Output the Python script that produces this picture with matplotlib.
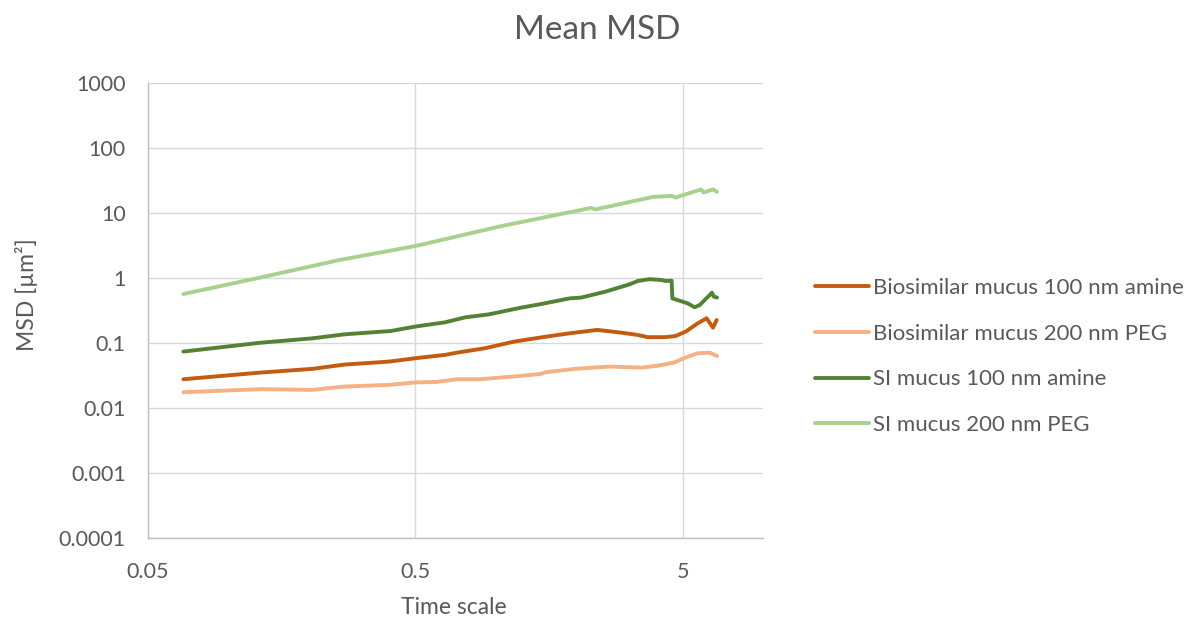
import matplotlib.pyplot as plt
from matplotlib.ticker import FixedLocator, FixedFormatter, NullLocator

plt.rcParams["font.family"] = ["Lato", "DejaVu Sans"]

# time lag (s) and mean MSD (um^2)
t_bio_amine = [0.0678, 0.132, 0.206, 0.272, 0.400, 0.50, 0.646, 0.72, 0.91, 1.17,
               1.54, 1.89, 2.40, 2.96, 3.40, 3.70, 4.32, 4.71, 5.14, 5.70,
               6.15, 6.50, 6.71]
msd_bio_amine = [0.0277, 0.0351, 0.040, 0.0466, 0.0518, 0.0583, 0.0656, 0.0713, 0.083, 0.105,
                 0.125, 0.141, 0.159, 0.144, 0.133, 0.123, 0.123, 0.128, 0.150, 0.201,
                 0.240, 0.172, 0.226]

t_bio_peg = [0.0678, 0.132, 0.206, 0.272, 0.400, 0.50, 0.60, 0.72, 0.87, 1.245,
             1.48, 1.54, 1.97, 2.66, 3.50, 4.00, 4.64, 5.14, 5.70, 6.32, 6.73]
msd_bio_peg = [0.0175, 0.0195, 0.0190, 0.0214, 0.0227, 0.0247, 0.0252, 0.0277, 0.0277, 0.0312,
               0.0335, 0.0355, 0.040, 0.0434, 0.0419, 0.0445, 0.050, 0.060, 0.0695, 0.071, 0.063]

t_si_amine = [0.0678, 0.132, 0.206, 0.272, 0.405, 0.50, 0.646, 0.768, 0.944, 1.245,
              1.48, 1.89, 2.09, 2.57, 3.17, 3.40, 3.77, 4.18, 4.32, 4.55,
              4.58, 5.23, 5.55, 5.80, 6.32, 6.44, 6.55, 6.73]
msd_si_amine = [0.0738, 0.101, 0.118, 0.136, 0.153, 0.179, 0.208, 0.248, 0.276, 0.350,
                0.398, 0.486, 0.50, 0.616, 0.80, 0.90, 0.96, 0.93, 0.90, 0.91,
                0.486, 0.407, 0.354, 0.385, 0.547, 0.594, 0.516, 0.50]

t_si_peg = [0.0678, 0.132, 0.26, 0.50, 1.05, 2.28, 2.35, 3.88, 4.56, 4.71,
            5.86, 5.99, 6.50, 6.73]
msd_si_peg = [0.567, 1.02, 1.89, 3.10, 6.29, 12.0, 11.3, 17.7, 18.3, 17.3,
              23.0, 20.7, 23.0, 21.2]

labels = ["Biosimilar mucus 100 nm amine", "Biosimilar mucus 200 nm PEG",
          "SI mucus 100 nm amine", "SI mucus 200 nm PEG"]
colors = ["#C55A11", "#F4B183", "#548235", "#A9D18E"]

x_ticks = [0.05, 0.5, 5]
x_ticklabels = ["0.05", "0.5", "5"]
y_ticks = [0.0001, 0.001, 0.01, 0.1, 1, 10, 100, 1000]
y_ticklabels = ["0.0001", "0.001", "0.01", "0.1", "1", "10", "100", "1000"]

text_color = "#595959"
grid_color = "#D9D9D9"

W, H = 1186, 619
fig = plt.figure(figsize=(W / 100, H / 100), dpi=100)
ax = fig.add_axes([148 / W, 1 - 538 / H, 615 / W, 455 / H])

series = [(t_bio_amine, msd_bio_amine), (t_bio_peg, msd_bio_peg),
          (t_si_amine, msd_si_amine), (t_si_peg, msd_si_peg)]
for (t, msd), lab, col in zip(series, labels, colors):
    ax.plot(t, msd, color=col, lw=2.8, label=lab, solid_capstyle="round",
            solid_joinstyle="round")

ax.set_xscale("log")
ax.set_yscale("log")
ax.set_xlim(0.05, 10)
ax.set_ylim(0.0001, 1000)

ax.xaxis.set_major_locator(FixedLocator(x_ticks))
ax.xaxis.set_major_formatter(FixedFormatter(x_ticklabels))
ax.xaxis.set_minor_locator(NullLocator())
ax.yaxis.set_major_locator(FixedLocator(y_ticks))
ax.yaxis.set_major_formatter(FixedFormatter(y_ticklabels))
ax.yaxis.set_minor_locator(NullLocator())

ax.grid(True, color=grid_color, lw=1.0)
ax.set_axisbelow(True)
ax.tick_params(length=0, labelsize=15.5, labelcolor=text_color)
ax.tick_params(axis="y", pad=16)
ax.tick_params(axis="x", pad=17)

for side in ["top", "right"]:
    ax.spines[side].set_visible(False)
for side in ["left", "bottom"]:
    ax.spines[side].set_color("#BFBFBF")
    ax.spines[side].set_linewidth(1.0)

# axis titles and chart title placed in figure pixels
fig.text(454 / W, 1 - 607 / H, "Time scale", ha="center", va="center",
         fontsize=16.5, color=text_color)
fig.text(26 / W, 1 - 295 / H, "MSD [µm²]", ha="center", va="center",
         rotation=90, fontsize=16.5, color=text_color)
fig.text(597 / W, 1 - 39 / H, "Mean MSD", ha="center", va="baseline",
         fontsize=24, color=text_color)

ax.legend(loc="upper left", bbox_to_anchor=(806 / W, 1 - 269 / H),
          bbox_transform=fig.transFigure, frameon=False, fontsize=16,
          labelcolor=text_color, handlelength=2.43, handletextpad=0.18,
          labelspacing=1.16, borderaxespad=0)

fig.savefig("out.png", dpi=100)
